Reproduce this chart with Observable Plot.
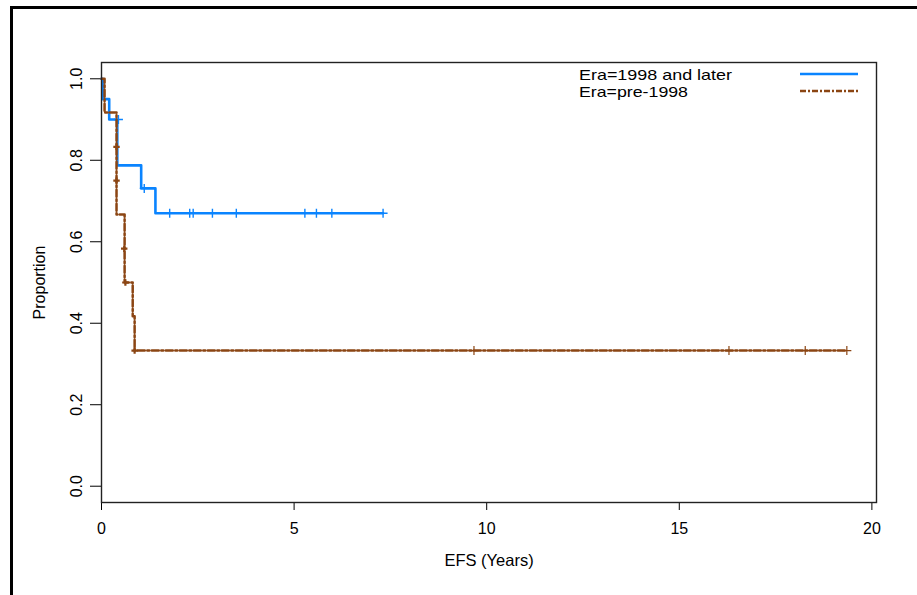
<!DOCTYPE html>
<html><head><meta charset="utf-8">
<script src="https://cdn.jsdelivr.net/npm/d3@7"></script>
<script src="https://cdn.jsdelivr.net/npm/@observablehq/plot@0.6"></script>
<style>
html,body{margin:0;padding:0;background:#fff;}
#wrap{position:relative;width:917px;height:595px;overflow:hidden;background:#fff;}
#wrap svg{position:absolute;left:0;top:0;}
#border{position:absolute;left:10px;top:6px;width:940px;height:620px;border-left:3px solid #000;border-top:3px solid #000;}
</style></head><body>
<div id="wrap"><div id="border"></div></div>
<script>
// ---- data ----
const seriesNames = ["Era=1998 and later", "Era=pre-1998"];
const xLabel = "EFS (Years)";
const yLabel = "Proportion";
const xTicks = [0, 5, 10, 15, 20];
const yTicks = [0.0, 0.2, 0.4, 0.6, 0.8, 1.0];

// Era = 1998 and later : step curve
const newTime = [0, 0.03, 0.20, 0.41, 1.03, 1.40, 7.31];
const newSurv = [1.0, 0.95, 0.90, 0.7875, 0.731, 0.670, 0.670];
// censor marks
const newCensorTime = [0.44, 1.11, 1.77, 2.29, 2.38, 2.88, 3.50, 5.28, 5.58, 5.98, 7.31];
const newCensorSurv = [0.90, 0.731, 0.670, 0.670, 0.670, 0.670, 0.670, 0.670, 0.670, 0.670, 0.670];

// Era = pre-1998 : step curve
const oldTime = [0, 0.08, 0.39, 0.60, 0.81, 0.86, 19.35];
const oldSurv = [1.0, 0.917, 0.667, 0.500, 0.417, 0.333, 0.333];
// censor marks
const oldCensorTime = [9.67, 16.29, 18.27, 19.35];
const oldCensorSurv = [0.333, 0.333, 0.333, 0.333];
// intermediate event points drawn on the drops
const oldEventTime = [0.39, 0.39, 0.59, 0.62, 0.86];
const oldEventSurv = [0.833, 0.750, 0.583, 0.500, 0.333];

// ---- build tables ----
const rows = (name, t, s) => t.map((d, i) => ({series: name, t: d, s: s[i]}));
const newRows = rows(seriesNames[0], newTime, newSurv);
const oldRows = rows(seriesNames[1], oldTime, oldSurv);
const newCensor = rows(seriesNames[0], newCensorTime, newCensorSurv);
const oldCensor = rows(seriesNames[1], oldCensorTime, oldCensorSurv);
const oldEvents = rows(seriesNames[1], oldEventTime, oldEventSurv);

const blue = "#0a84ff";
const brown = "#8b4513";
const FONT = "'Liberation Sans', Arial, Helvetica, sans-serif";

const cross = {
  draw(ctx, size) {
    const r = Math.sqrt(size / Math.PI);
    ctx.moveTo(-r, 0); ctx.lineTo(r, 0);
    ctx.moveTo(0, -r); ctx.lineTo(0, r);
  }
};

const chart = Plot.plot({
  width: 917,
  height: 595,
  marginLeft: 101,
  marginRight: 41,
  marginTop: 62,
  marginBottom: 93,
  style: {fontFamily: FONT, fontSize: "16px", background: "transparent", color: "#000", overflow: "visible"},
  x: {domain: [0, 20.12]},
  y: {domain: [-0.04, 1.04]},
  marks: [
    Plot.axisX({ticks: xTicks, tickSize: 8, tickPadding: 12, label: null, tickFormat: d => String(d), fontSize: 16}),
    Plot.axisY({ticks: yTicks, tickSize: 11, label: null, tickFormat: () => ""}),
    Plot.text(yTicks, {y: d => d, text: d => d.toFixed(1), frameAnchor: "left", dx: -25, rotate: -90, textAnchor: "middle", lineAnchor: "middle", fontSize: 16}),
    Plot.text([yLabel], {text: d => d, frameAnchor: "left", dx: -62, rotate: -90, textAnchor: "middle", lineAnchor: "middle", fontSize: 16}),
    Plot.text([xLabel], {text: d => d, frameAnchor: "bottom", dy: 63, textAnchor: "middle", lineAnchor: "bottom", fontSize: 16.5}),
    Plot.line(newRows, {x: "t", y: "s", curve: "step-after", stroke: blue, strokeWidth: 2.6}),
    Plot.dot(newCensor, {x: "t", y: "s", symbol: cross, r: 4.5, stroke: blue, fill: "none", strokeWidth: 1.4}),
    Plot.line(oldRows, {x: "t", y: "s", curve: "step-after", stroke: brown, strokeWidth: 2.5, strokeDasharray: "7,2.5,2,2.5"}),
    Plot.dot(oldCensor, {x: "t", y: "s", symbol: cross, r: 4.5, stroke: brown, fill: "none", strokeWidth: 1.2}),
    Plot.dot(oldEvents, {x: "t", y: "s", symbol: cross, r: 3.2, stroke: brown, fill: "none", strokeWidth: 2.2}),
    Plot.frame({stroke: "#222", strokeWidth: 1.4})
  ]
});

document.getElementById("wrap").appendChild(chart);

// legend inside the plot area, top-right
const svg = d3.select(chart);
const legendStyles = [
  {color: blue, dash: null, width: 2.6, len: 153},
  {color: brown, dash: "6,2,2,2", width: 2.6, len: 109}
];
const leg = svg.append("g")
  .attr("font-family", FONT)
  .attr("font-size", 15)
  .attr("text-anchor", "start")
  .attr("fill", "#000");
seriesNames.forEach((name, i) => {
  leg.append("text")
    .attr("x", 579).attr("y", 80 + i * 17)
    .attr("text-anchor", "start")
    .attr("textLength", legendStyles[i].len)
    .attr("lengthAdjust", "spacingAndGlyphs")
    .text(name);
  const ln = leg.append("line")
    .attr("x1", 800).attr("x2", 858)
    .attr("y1", 74 + i * 17).attr("y2", 74 + i * 17)
    .attr("stroke", legendStyles[i].color)
    .attr("stroke-width", legendStyles[i].width);
  if (legendStyles[i].dash) ln.attr("stroke-dasharray", legendStyles[i].dash);
});
</script>
</body></html>
